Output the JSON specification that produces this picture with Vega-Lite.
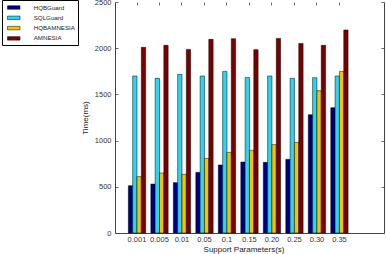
{
  "$schema": "https://vega.github.io/schema/vega-lite/v6.json",
  "width": 269,
  "height": 231,
  "autosize": {"type": "none"},
  "padding": {"left": 115, "top": 2, "right": 2, "bottom": 21},
  "background": "white",
  "config": {
    "view": {"stroke": null},
    "axis": {
      "labelFont": "Liberation Sans",
      "labelFontSize": 7.5,
      "labelColor": "#333333",
      "titleFont": "Liberation Sans",
      "titleFontSize": 8,
      "titleFontWeight": "normal",
      "titleColor": "#222222",
      "domainColor": "#444444",
      "tickColor": "#444444",
      "domainWidth": 1,
      "tickWidth": 0.8,
      "grid": false
    },
    "legend": {
      "labelFont": "Liberation Sans",
      "labelFontSize": 6.2,
      "labelColor": "#222222"
    }
  },
  "data": {
    "values": [
      {"p": "0.001", "s": "HQBGuard", "v": 512},
      {"p": "0.001", "s": "SQLGuard", "v": 1699},
      {"p": "0.001", "s": "HQBAMNESIA", "v": 610},
      {"p": "0.001", "s": "AMNESIA", "v": 2009},
      {"p": "0.005", "s": "HQBGuard", "v": 530},
      {"p": "0.005", "s": "SQLGuard", "v": 1674},
      {"p": "0.005", "s": "HQBAMNESIA", "v": 649},
      {"p": "0.005", "s": "AMNESIA", "v": 2031},
      {"p": "0.01", "s": "HQBGuard", "v": 545},
      {"p": "0.01", "s": "SQLGuard", "v": 1717},
      {"p": "0.01", "s": "HQBAMNESIA", "v": 635},
      {"p": "0.01", "s": "AMNESIA", "v": 1987},
      {"p": "0.05", "s": "HQBGuard", "v": 656},
      {"p": "0.05", "s": "SQLGuard", "v": 1699},
      {"p": "0.05", "s": "HQBAMNESIA", "v": 808},
      {"p": "0.05", "s": "AMNESIA", "v": 2096},
      {"p": "0.1", "s": "HQBGuard", "v": 736},
      {"p": "0.1", "s": "SQLGuard", "v": 1749},
      {"p": "0.1", "s": "HQBAMNESIA", "v": 873},
      {"p": "0.1", "s": "AMNESIA", "v": 2103},
      {"p": "0.15", "s": "HQBGuard", "v": 768},
      {"p": "0.15", "s": "SQLGuard", "v": 1684},
      {"p": "0.15", "s": "HQBAMNESIA", "v": 895},
      {"p": "0.15", "s": "AMNESIA", "v": 1984},
      {"p": "0.20", "s": "HQBGuard", "v": 765},
      {"p": "0.20", "s": "SQLGuard", "v": 1699},
      {"p": "0.20", "s": "HQBAMNESIA", "v": 956},
      {"p": "0.20", "s": "AMNESIA", "v": 2106},
      {"p": "0.25", "s": "HQBGuard", "v": 797},
      {"p": "0.25", "s": "SQLGuard", "v": 1674},
      {"p": "0.25", "s": "HQBAMNESIA", "v": 981},
      {"p": "0.25", "s": "AMNESIA", "v": 2052},
      {"p": "0.30", "s": "HQBGuard", "v": 1280},
      {"p": "0.30", "s": "SQLGuard", "v": 1681},
      {"p": "0.30", "s": "HQBAMNESIA", "v": 1540},
      {"p": "0.30", "s": "AMNESIA", "v": 2031},
      {"p": "0.35", "s": "HQBGuard", "v": 1356},
      {"p": "0.35", "s": "SQLGuard", "v": 1699},
      {"p": "0.35", "s": "HQBAMNESIA", "v": 1749},
      {"p": "0.35", "s": "AMNESIA", "v": 2197}
    ]
  },
  "layer": [
    {
      "mark": {"type": "bar", "stroke": "#000000", "strokeWidth": 0.5},
      "encoding": {
        "x": {
          "field": "p",
          "type": "nominal",
          "sort": null,
          "scale": {"paddingInner": 0, "paddingOuter": 0.98, "align": 0.244},
          "axis": {
            "orient": "bottom",
            "title": "Support Parameters(s)",
            "labelAngle": 0,
            "tickSize": -3,
            "labelPadding": 5,
            "titlePadding": 3,
            "titleX": 128.5
          }
        },
        "xOffset": {
          "field": "s",
          "type": "nominal",
          "sort": ["HQBGuard", "SQLGuard", "HQBAMNESIA", "AMNESIA"],
          "scale": {"paddingInner": 0, "paddingOuter": 0.6}
        },
        "y": {
          "field": "v",
          "type": "quantitative",
          "scale": {"domain": [0, 2500], "nice": false},
          "axis": {
            "orient": "left",
            "title": "Time(ms)",
            "format": "d",
            "values": [0, 500, 1000, 1500, 2000, 2500],
            "tickSize": -3,
            "labelPadding": 7,
            "titlePadding": 5
          }
        },
        "color": {
          "field": "s",
          "type": "nominal",
          "sort": ["HQBGuard", "SQLGuard", "HQBAMNESIA", "AMNESIA"],
          "scale": {
            "domain": ["HQBGuard", "SQLGuard", "HQBAMNESIA", "AMNESIA"],
            "range": ["#00007F", "#2ED3EF", "#F5C400", "#7A0000"]
          },
          "legend": {
            "orient": "none",
            "legendX": -113,
            "legendY": -2,
            "title": null,
            "strokeColor": "#000000",
            "fillColor": "#ffffff",
            "padding": 3,
            "symbolType": "M-0.5,-0.4375H2.625V0.4375H-0.5Z",
            "symbolSize": 64,
            "symbolStrokeWidth": 0.5,
            "symbolStrokeColor": "#000000",
            "labelOffset": 19.7,
            "rowPadding": 2.3
          }
        }
      }
    },
    {
      "mark": {"type": "point", "opacity": 0},
      "encoding": {
        "x": {
          "field": "p",
          "type": "nominal",
          "sort": null,
          "axis": {"orient": "top", "labels": false, "title": null, "domain": false, "tickSize": -3}
        },
        "y": {
          "field": "v",
          "type": "quantitative",
          "axis": {"orient": "right", "labels": false, "title": null, "values": [0, 500, 1000, 1500, 2000, 2500], "tickSize": -3}
        }
      }
    }
  ],
  "resolve": {"axis": {"x": "independent", "y": "independent"}}
}
